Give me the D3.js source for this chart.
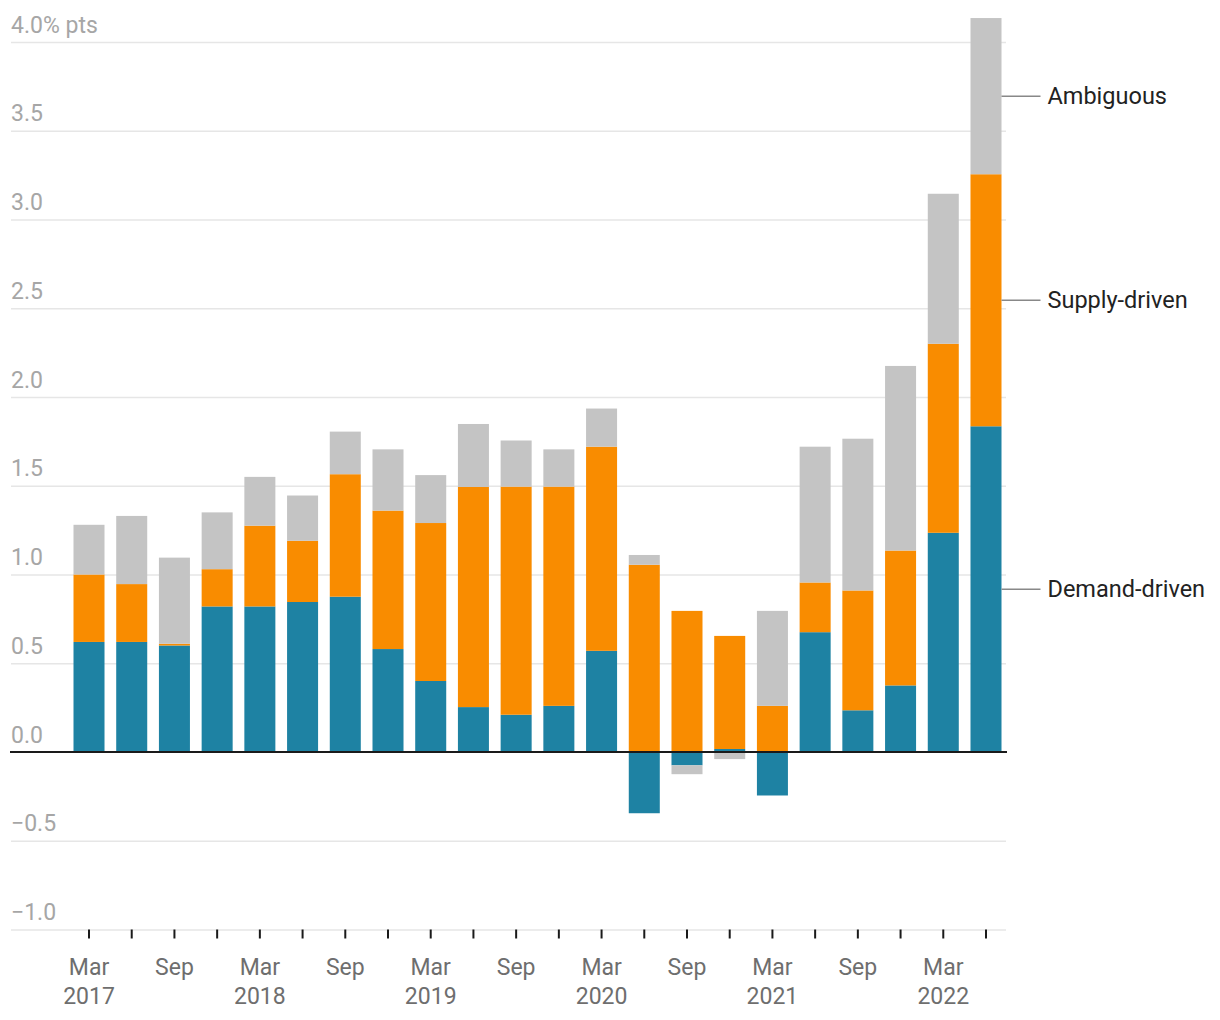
<!DOCTYPE html>
<html><head><meta charset="utf-8">
<script src="https://cdn.jsdelivr.net/npm/d3@7"></script>
<style>
html,body{margin:0;padding:0;background:#fff;}
svg{display:block;font-family:Roboto,"Noto Sans",sans-serif;}
</style></head>
<body><svg id="c" width="1220" height="1020"></svg>
<script>
const quarters = ["Mar 2017","Jun 2017","Sep 2017","Dec 2017","Mar 2018","Jun 2018","Sep 2018","Dec 2018",
  "Mar 2019","Jun 2019","Sep 2019","Dec 2019","Mar 2020","Jun 2020","Sep 2020","Dec 2020",
  "Mar 2021","Jun 2021","Sep 2021","Dec 2021","Mar 2022","Jun 2022"];
const demand = [0.62,0.62,0.60,0.82,0.82,0.845,0.875,0.58,0.40,0.253,0.21,0.26,0.57,-0.345,-0.075,0.017,-0.245,0.675,0.235,0.375,1.235,1.835];
const supply = [0.38,0.326,0.01,0.21,0.455,0.345,0.69,0.78,0.89,1.24,1.285,1.235,1.15,1.055,0.795,0.637,0.26,0.28,0.675,0.76,1.065,1.42];
const ambiguous = [0.28,0.384,0.485,0.32,0.275,0.255,0.24,0.345,0.27,0.355,0.26,0.21,0.215,0.055,-0.05,-0.04,0.535,0.765,0.855,1.04,0.845,0.88];
const seriesNames = ["Demand-driven","Supply-driven","Ambiguous"];
const seriesColors = ["#1e82a3","#f98c00","#c4c4c4"];
const yTicks = [-1,-0.5,0,0.5,1,1.5,2,2.5,3,3.5,4];

const svg = d3.select("#c");
const x = d3.scaleBand().domain(quarters).range([67.65,1007.35]).paddingInner(0.274).paddingOuter(0.137);
const y = d3.scaleLinear().domain([-1,4]).range([929.5,42]);

// gridlines + y labels
const fmt = v => (v===4 ? "4.0% pts" : (v<0 ? "\u2212"+d3.format(".1f")(-v) : d3.format(".1f")(v)));
const yAxis = svg.append("g").attr("transform","translate(11,0)")
  .call(d3.axisRight(y).tickValues(yTicks).tickSize(995).tickFormat(fmt));
yAxis.select(".domain").remove();
yAxis.selectAll(".tick line").attr("stroke","#e6e6e6").attr("stroke-width",1.5)
  .attr("opacity", d => d===0 ? 0 : 1);
yAxis.selectAll(".tick text").attr("x",0).attr("dy",null).attr("y",-10)
  .attr("text-anchor","start").attr("fill","#a6a6a6").attr("font-size",23).attr("font-family","Roboto");

// stacked bars
const rows = quarters.map((q,i)=>({q, "Demand-driven":demand[i], "Supply-driven":supply[i], "Ambiguous":ambiguous[i]}));
const stack = d3.stack().keys(seriesNames).offset(d3.stackOffsetDiverging)(rows);
svg.append("g").selectAll("g").data(stack).join("g").attr("fill",(d,i)=>seriesColors[i])
  .selectAll("rect").data(d=>d).join("rect")
  .attr("x",d=>x(d.data.q)).attr("width",x.bandwidth())
  .attr("y",d=>y(Math.max(d[0],d[1]))).attr("height",d=>Math.abs(y(d[0])-y(d[1])));

// zero line
svg.append("line").attr("x1",10).attr("x2",1007).attr("y1",y(0)).attr("y2",y(0))
  .attr("stroke","#1a1a1a").attr("stroke-width",2);

// x axis
const xAxis = svg.append("g").attr("transform",`translate(0,${y(-1)})`)
  .call(d3.axisBottom(x).tickSize(9).tickFormat(""));
xAxis.select(".domain").remove();
xAxis.selectAll(".tick line").attr("stroke","#1a1a1a").attr("stroke-width",2);
xAxis.selectAll(".tick").each(function(d,i){
  if (i%2) return;
  const [m,yr] = d.split(" ");
  const t = d3.select(this).append("text").attr("fill","#6e6e6e").attr("font-size",23)
    .attr("text-anchor","middle").attr("font-family","Roboto");
  t.append("tspan").attr("x",0).attr("y",45).text(m);
  if (m==="Mar") t.append("tspan").attr("x",0).attr("y",74).text(yr);
});

// series labels at last bar
const last = stack.map(s=>s[s.length-1]);
const lx = x(quarters[quarters.length-1]) + x.bandwidth();
last.forEach((d,i)=>{
  const my = y((d[0]+d[1])/2);
  svg.append("line").attr("x1",lx).attr("x2",lx+39).attr("y1",my).attr("y2",my)
    .attr("stroke","#888").attr("stroke-width",1.5);
  svg.append("text").attr("x",lx+46).attr("y",my).attr("dy","0.35em")
    .attr("fill","#222").attr("font-size",23.5).text(seriesNames[i]);
});
</script></body></html>
